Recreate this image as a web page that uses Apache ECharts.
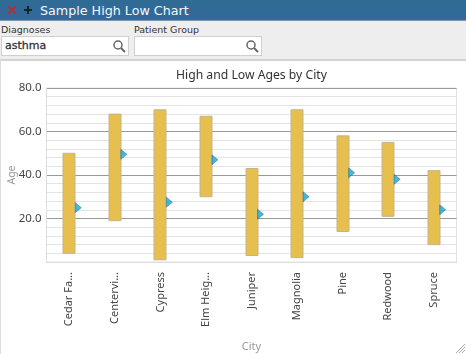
<!DOCTYPE html>
<html>
<head>
<meta charset="utf-8">
<style>
  html, body { margin: 0; padding: 0; width: 466px; height: 354px; overflow: hidden; background: #eeeeee; font-family: "Noto Sans", sans-serif; }
  #header { position: absolute; left: 0; top: 0; width: 466px; height: 21px; background: linear-gradient(#2f6b94, #33699c); border-bottom: 1px solid #7f95a8; box-sizing: border-box; }
  #header .title { position: absolute; left: 40px; top: 2px; color: #f4f8fb; font-family: "DejaVu Sans", sans-serif; font-size: 12.7px; line-height: 17px; }
  #header svg { position: absolute; top: 5px; }
  .lbl { position: absolute; top: 24px; font-family: "DejaVu Sans", sans-serif; font-size: 9.5px; line-height: 12px; color: #333; }
  .box { position: absolute; top: 36px; width: 128px; height: 20px; box-sizing: border-box; background: #fff; border: 1px solid #cfcfcf; font-family: "DejaVu Sans", sans-serif; font-size: 11px; line-height: 18px; padding-left: 3px; color: #333; }
  .box svg { position: absolute; right: 2px; top: 2px; }
  #panel { position: absolute; left: 0; top: 59px; width: 466px; height: 295px; background: #fff; border-top: 2px solid #d2d2d2; border-left: 1px solid #dddddd; box-sizing: border-box; }
  #main { position: absolute; left: 0; top: 60px; width: 466px; height: 294px; }
  #grip { position: absolute; right: 0; bottom: 0; }
</style>
</head>
<body>
<div id="header">
  <svg width="10" height="10" style="left:7px"><path d="M1 1L9 9M9 1L1 9" stroke="#a8353a" stroke-width="2"/></svg>
  <svg width="10" height="10" style="left:23px"><path d="M5 1V9M1 5H9" stroke="#16242c" stroke-width="2"/></svg>
  <span class="title">Sample High Low Chart</span>
</div>
<div class="lbl" style="left:1px">Diagnoses</div>
<div class="lbl" style="left:134px">Patient Group</div>
<div class="box" style="left:1px"><span style="-webkit-text-stroke:0.3px #333">asthma</span><svg width="14" height="14"><circle cx="6" cy="6" r="4" fill="none" stroke="#666" stroke-width="1.5"/><path d="M9 9L13 13" stroke="#666" stroke-width="2"/></svg></div>
<div class="box" style="left:134px"><svg width="14" height="14"><circle cx="6" cy="6" r="4" fill="none" stroke="#666" stroke-width="1.5"/><path d="M9 9L13 13" stroke="#666" stroke-width="2"/></svg></div>
<div id="panel"></div>
<div id="main"></div>
<svg id="grip" width="11" height="11"><path d="M1 10L10 1M4 10L10 4M7 10L10 7" stroke="#aaa" stroke-width="1"/></svg>
<script src="https://cdn.jsdelivr.net/npm/echarts@6/dist/echarts.min.js"></script>
<script>
var cities = ['Cedar Fa...', 'Centervi...', 'Cypress', 'Elm Heig...', 'Juniper', 'Magnolia', 'Pine', 'Redwood', 'Spruce'];
var lowAges = [4, 19, 1, 30, 3, 2, 14, 21, 8];
var highAges = [50, 68, 70, 67, 43, 70, 58, 55, 42];
var avgAges = [25, 49.5, 27.5, 47, 22, 30, 41, 38, 24];

var rangeData = cities.map(function (c, i) { return [i, lowAges[i], highAges[i]]; });

var chart = echarts.init(document.getElementById('main'));
chart.setOption({
  animation: false,
  textStyle: { fontFamily: 'Noto Sans' },
  title: {
    text: 'High and Low Ages by City',
    left: 176,
    top: 10,
    padding: 0,
    textStyle: { fontSize: 12.2, fontWeight: 'normal', color: '#333333' }
  },
  grid: { show: true, borderColor: '#e2e2e2', borderWidth: 1, left: 46.5, top: 28, width: 410, height: 174, outerBoundsMode: 'none' },
  xAxis: {
    type: 'category',
    data: cities,
    name: 'City',
    nameLocation: 'middle',
    nameGap: 79,
    nameMoveOverlap: false,
    nameTextStyle: { color: '#999999', fontSize: 11 },
    axisLine: { lineStyle: { color: '#dddddd' } },
    axisTick: { show: false },
    splitLine: { show: false },
    axisLabel: { rotate: 90, interval: 0, margin: 10, fontSize: 11, color: '#444444' }
  },
  yAxis: {
    type: 'value',
    min: 0,
    max: 80,
    interval: 20,
    name: 'Age',
    nameLocation: 'middle',
    nameGap: 29,
    nameMoveOverlap: false,
    nameTextStyle: { color: '#999999', fontSize: 10.5 },
    axisLine: { show: true, lineStyle: { color: '#dddddd' } },
    axisTick: { show: false },
    axisLabel: {
      fontSize: 11.5,
      color: '#444444',
      margin: 5,
      formatter: function (v) { return v === 0 ? '' : v.toFixed(1); }
    },
    splitLine: { lineStyle: { color: '#999999' } },
    minorTick: { show: false, splitNumber: 5 },
    minorSplitLine: { show: true, lineStyle: { color: '#e3e3e3' } }
  },
  series: [
    {
      type: 'custom',
      name: 'Range',
      data: rangeData,
      encode: { x: 0, y: [1, 2] },
      renderItem: function (params, api) {
        var x = api.coord([api.value(0), 0])[0];
        var top = api.coord([api.value(0), api.value(2)])[1];
        var bottom = api.coord([api.value(0), api.value(1)])[1];
        return {
          type: 'rect',
          shape: { x: Math.round(x) - 6, y: top, width: 12, height: bottom - top },
          style: { fill: '#e6bf4e', stroke: '#c4b48a', lineWidth: 1 }
        };
      },
      z: 2
    },
    {
      type: 'scatter',
      name: 'Average',
      data: avgAges,
      symbol: 'triangle',
      symbolRotate: -90,
      symbolSize: [10, 6],
      symbolOffset: [9, 0],
      itemStyle: { color: '#0ea8e0', borderColor: '#2c4f60', borderWidth: 0.5 },
      z: 3
    }
  ]
});
</script>
</body>
</html>
